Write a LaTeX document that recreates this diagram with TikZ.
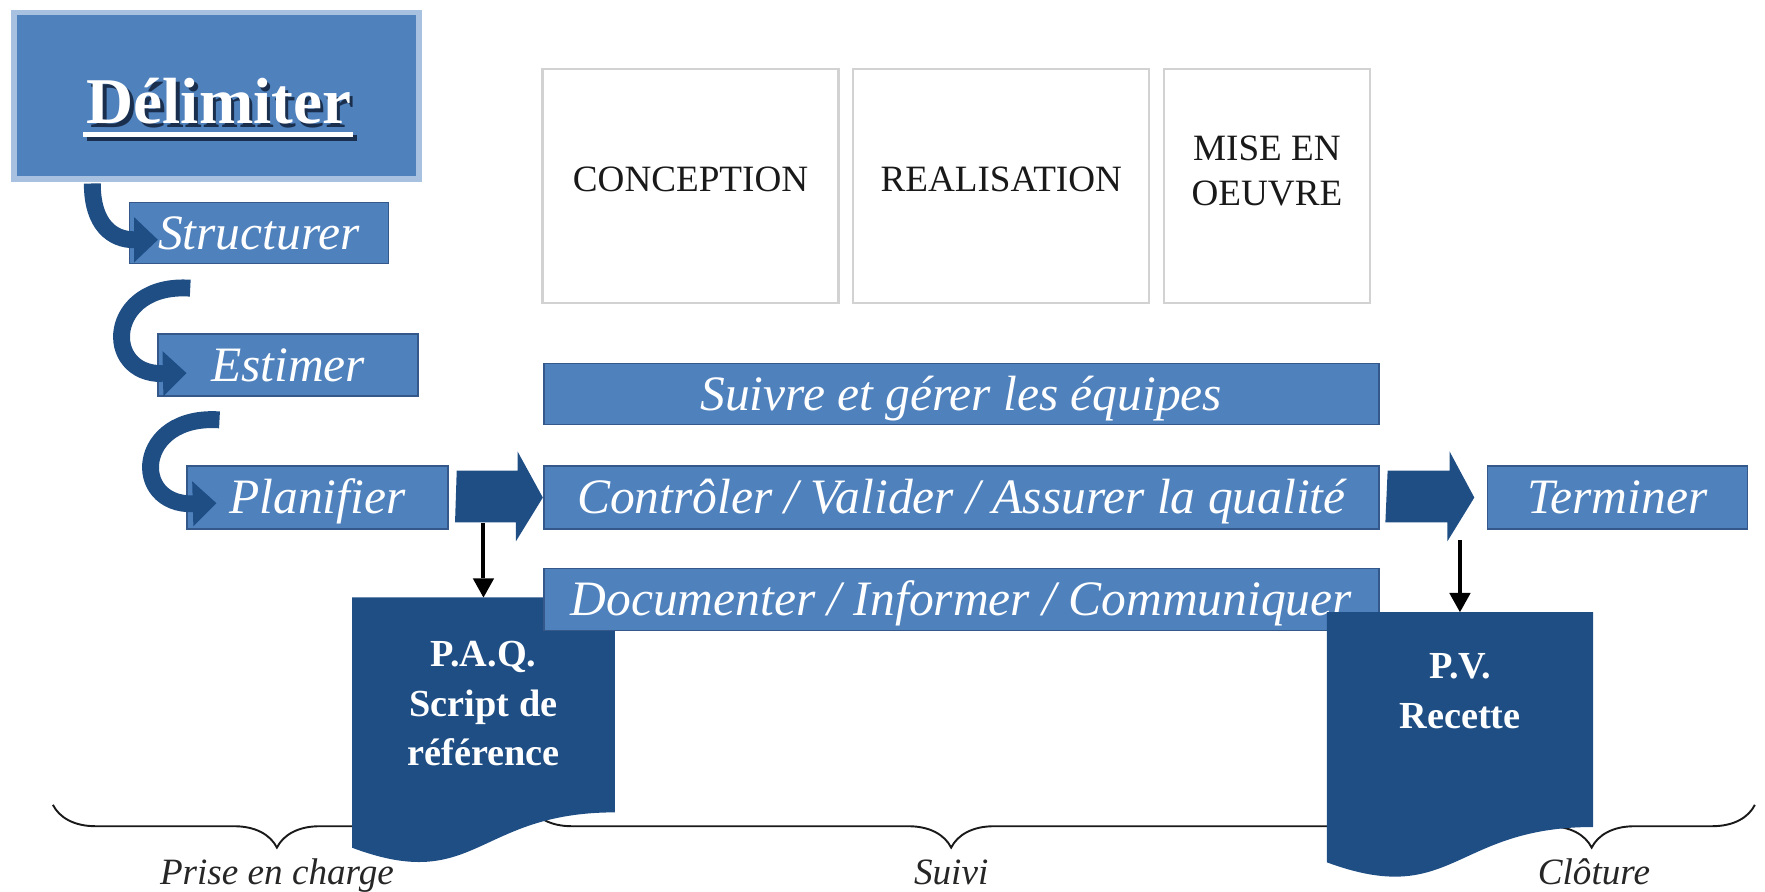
\documentclass[tikz,border=0pt]{standalone}
\usepackage{fontspec}
\setmainfont{Liberation Serif}
\usetikzlibrary{arrows.meta,calc,decorations.pathreplacing}
\definecolor{midblue}{HTML}{4F81BD}
\definecolor{dkblue}{HTML}{1F4E85}
\definecolor{edgeblue}{HTML}{34588A}
\definecolor{glowblue}{HTML}{A9C1E0}
\definecolor{boxgray}{HTML}{D2D2D2}
\definecolor{shadowc}{HTML}{1A2F4D}
\newcommand*{\stripefont}{\fontsize{44}{50}\selectfont\itshape}
\newcommand*{\phasefont}{\fontsize{33}{40}\selectfont}
\newcommand*{\docfont}{\fontsize{34}{44}\selectfont\bfseries}
\newcommand*{\bracefont}{\fontsize{33}{38}\selectfont\itshape}
\begin{document}
\begin{tikzpicture}[x=1pt,y=-1pt,
  stripe/.style={draw=edgeblue,line width=1.5pt,fill=midblue,inner sep=0pt,
    text=white,font=\stripefont,text height=29pt,text depth=0pt},
  phase/.style={draw=boxgray,line width=2pt,fill=white,inner sep=0pt,minimum height=208pt},
  phasetxt/.style={inner sep=0pt,text=black!90,font=\phasefont,align=center},
  curvearrow/.style={draw=dkblue,line width=15pt,
    -{Triangle[length=21pt,width=40pt,line width=0pt]}},
  dnarrow/.style={draw=black,line width=3.5pt,
    -{Triangle[length=17pt,width=19pt,line width=0pt]}},
  docbox/.style={inner sep=0pt,minimum width=#1,minimum height=238pt},
  doctxt/.style={inner sep=0pt,text=white,font=\docfont,align=center},
  phasebrace/.style={draw=black!90,line width=1.7pt,decorate,
    decoration={brace,mirror,amplitude=38pt}},
  bracetxt/.style={inner sep=0pt,anchor=base,text=black!85,font=\bracefont}
]
\useasboundingbox (0,0) rectangle (1568,792);

% top phase boxes
\node[phase,minimum width=263pt] (conc) at (613.5,165.5) {};
\node[phase,minimum width=263pt] (real) at (889.5,165.5) {};
\node[phase,minimum width=183pt] (mise) at (1125.5,165.5) {};
\node[phasetxt,anchor=base] (conctx) at (613.5,170) {CONCEPTION};
\node[phasetxt,anchor=base] (realtx) at (889.5,170) {REALISATION};
\node[phasetxt] (misetx) at (1125.5,151.8) {MISE EN\\OEUVRE};

% Délimiter
\node[draw=glowblue,line width=5pt,fill=midblue,minimum width=360pt,minimum height=148pt,inner sep=0pt] (delim) at (192.5,85) {};
\fill[shadowc] (77,120) rectangle (317,125);
\fill[white] (74,117) rectangle (314,122);
\node[inner sep=0pt,anchor=base,text=shadowc,font=\fontsize{58}{60}\selectfont\bfseries] (delimsh) at (197.5,113) {Délimiter};
\node[inner sep=0pt,anchor=base,text=white,font=\fontsize{58}{60}\selectfont\bfseries] (delimtx) at (194.5,110) {Délimiter};

% left stripes
\node[stripe,minimum width=230pt,minimum height=54pt] (struct) at (230,207) {Structurer};
\node[stripe,minimum width=231pt,minimum height=55pt] (estim) at (256,324.5) {Estimer};
\node[stripe,minimum width=232pt,minimum height=56pt] (planif) at (282,442) {Planifier};

% central stripes
\node[stripe,minimum width=742pt,minimum height=54pt] (suivre) at (854,350) {Suivre et gérer les équipes};
\node[stripe,minimum width=742pt,minimum height=56pt] (ctrl) at (854,442) {Contrôler / Valider / Assurer la qualité};
\node[stripe,minimum width=231pt,minimum height=56pt] (term) at (1437,442) {Terminer};

% curved arrows
\coordinate (ca1) at (82,163);
\coordinate (ca2) at (169,256);
\coordinate (ca3) at (195,373);
\draw[curvearrow] (ca1) .. controls (82,200) and (100,213) .. ($(struct.west)+(26,6)$);
\draw[curvearrow] (ca2) .. controls (95,251) and (90,333) .. ($(estim.west)+(26,7)$);
\draw[curvearrow] (ca3) .. controls (120,368) and (116,449) .. ($(planif.west)+(27,5)$);

% block arrows
\fill[dkblue] ($(planif.east)+(7,-24)$) -- ++(54,0) -- ++(0,-17) -- (ctrl.west)
  -- ($(ctrl.west)+(-24,39)$) -- ++(0,-17) -- ++(-54,0) -- cycle;
\coordinate (tipb) at ($(term.west)+(-11,0)$);
\fill[dkblue] ($(ctrl.east)+(7,-24)$) -- ++(55,0) -- ++(0,-17) -- (tipb)
  -- ($(tipb)+(-24,39)$) -- ++(0,-17) -- ++(-55,0) -- cycle;

% braces
\draw[phasebrace] (47,715) -- (445,715);
\draw[phasebrace] (470,715) -- (1220,715);
\draw[phasebrace] (1269,715) -- (1559,715);
\node[bracetxt] (prise) at (246,786) {Prise en charge};
\node[bracetxt] (suivi) at (845,786) {Suivi};
\node[bracetxt] (cloture) at (1416,786) {Clôture};

% PAQ document
\node[docbox=233pt] (paq) at (429.5,650) {};
\fill[dkblue] (paq.north west) -- (paq.north east) -- ($(paq.north east)+(0,190.9)$)
  .. controls ($(paq.north west)+(110,190.9)$) and ($(paq.north west)+(110,263.6)$)
  .. ($(paq.north west)+(0,222.3)$) -- cycle;
\node[doctxt] (paqtx) at (429.5,625) {P.A.Q.\\Script de\\référence};
\coordinate (d1) at (429.5,465);
\draw[dnarrow] (d1) -- (paq.north);

% Documenter stripe (over PAQ)
\node[stripe,minimum width=742pt,minimum height=55pt] (docu) at (854,532.5) {Documenter / Informer / Communiquer};

% PV document
\node[docbox=236pt] (pv) at (1297,663) {};
\fill[dkblue] (pv.north west) -- (pv.north east) -- ($(pv.north east)+(0,190.9)$)
  .. controls ($(pv.north west)+(112,190.9)$) and ($(pv.north west)+(112,263.6)$)
  .. ($(pv.north west)+(0,222.3)$) -- cycle;
\node[doctxt] (pvtx) at (1297,614) {P.V.\\Recette};
\coordinate (d2) at (1297,480);
\draw[dnarrow] (d2) -- (pv.north);
\end{tikzpicture}
\end{document}
